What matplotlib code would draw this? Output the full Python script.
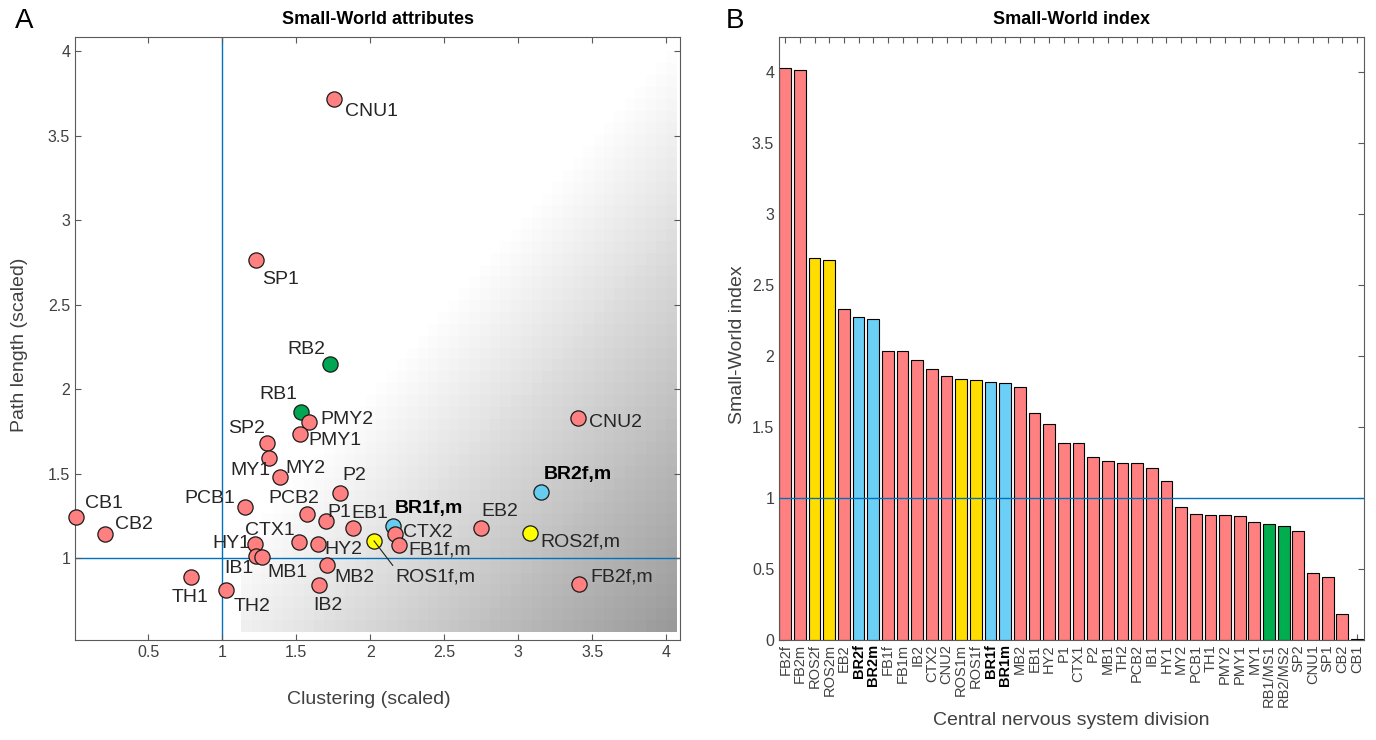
import numpy as np
import matplotlib.pyplot as plt
from matplotlib.ticker import FormatStrFormatter

plt.rcParams['font.family'] = ['Liberation Sans', 'DejaVu Sans']

# ---- Panel A: scaled clustering vs scaled path length ----
sw_names = ['CNU1', 'SP1', 'RB2', 'RB1', 'PMY2', 'PMY1', 'SP2', 'MY1', 'MY2', 'P2',
            'PCB1', 'PCB2', 'P1', 'EB1', 'CB1', 'CB2', 'CTX1', 'HY1', 'IB1', 'MB1',
            'HY2', 'MB2', 'IB2', 'TH1', 'TH2', 'ROS1f,m', 'BR1f,m', 'CTX2', 'FB1f,m',
            'EB2', 'BR2f,m', 'ROS2f,m', 'CNU2', 'FB2f,m']
clustering = [1.752, 1.228, 1.728, 1.532, 1.586, 1.525, 1.302, 1.316, 1.390, 1.795,
              1.155, 1.574, 1.699, 1.881, 0.012, 0.207, 1.516, 1.221, 1.230, 1.268,
              1.645, 1.705, 1.655, 0.789, 1.023, 2.025, 2.155, 2.167, 2.196,
              2.746, 3.151, 3.079, 3.401, 3.412]
path_length = [3.718, 2.763, 2.148, 1.867, 1.805, 1.737, 1.680, 1.592, 1.483, 1.388,
               1.304, 1.260, 1.222, 1.178, 1.246, 1.146, 1.095, 1.085, 1.015, 1.009,
               1.083, 0.960, 0.842, 0.889, 0.814, 1.104, 1.193, 1.144, 1.080,
               1.179, 1.391, 1.148, 1.830, 0.848]
sw_group = ['o', 'o', 'rb', 'rb', 'o', 'o', 'o', 'o', 'o', 'o',
            'o', 'o', 'o', 'o', 'o', 'o', 'o', 'o', 'o', 'o',
            'o', 'o', 'o', 'o', 'o', 'ros', 'br', 'o', 'o',
            'o', 'br', 'ros', 'o', 'o']

# label offsets in pixels (dx right, dy down) and alignment
label_pos = {
    'CB1': (9, -13, 'left'), 'CB2': (10, -9, 'left'), 'PCB1': (-10, -8, 'right'),
    'TH1': (-1, 20, 'center'), 'TH2': (8, 17, 'left'), 'HY1': (-5, -1, 'right'),
    'IB1': (-3, 13, 'right'), 'MB1': (5, 16, 'left'), 'CTX1': (-4, -12, 'right'),
    'PCB2': (-13, -16, 'center'), 'P1': (2, -8, 'left'), 'EB1': (-1, -15, 'left'),
    'HY2': (7, 5, 'left'), 'MB2': (8, 12, 'left'), 'IB2': (9, 20, 'center'),
    'P2': (2, -17, 'left'), 'MY2': (5, -8, 'left'), 'MY1': (1, 12, 'right'),
    'SP2': (-2, -15, 'right'), 'PMY1': (8, 7, 'left'), 'PMY2': (11, -3, 'left'),
    'RB1': (-4, -17, 'right'), 'ROS1f,m': (21, 36, 'left'), 'BR1f,m': (2, -17, 'left'),
    'CTX2': (8, -2, 'left'), 'FB1f,m': (9, 5, 'left'), 'EB2': (1, -17, 'left'),
    'BR2f,m': (3, -18, 'left'), 'ROS2f,m': (10, 9, 'left'), 'CNU2': (11, 4, 'left'),
    'FB2f,m': (11, -7, 'left'), 'CNU1': (11, 12, 'left'), 'SP1': (6, 19, 'left'),
    'RB2': (-5, -15, 'right'),
}

# ---- Panel B: small-world index per division ----
bar_names = ['FB2f', 'FB2m', 'ROS2f', 'ROS2m', 'EB2', 'BR2f', 'BR2m', 'FB1f', 'FB1m', 'IB2',
             'CTX2', 'CNU2', 'ROS1m', 'ROS1f', 'BR1f', 'BR1m', 'MB2', 'EB1', 'HY2', 'P1',
             'CTX1', 'P2', 'MB1', 'TH2', 'PCB2', 'IB1', 'HY1', 'MY2', 'PCB1', 'TH1',
             'PMY2', 'PMY1', 'MY1', 'RB1/MS1', 'RB2/MS2', 'SP2', 'CNU1', 'SP1', 'CB2', 'CB1']
sw_index = [4.03, 4.02, 2.69, 2.68, 2.33, 2.28, 2.26, 2.04, 2.04, 1.97,
            1.91, 1.86, 1.84, 1.835, 1.82, 1.81, 1.78, 1.60, 1.52, 1.39,
            1.39, 1.29, 1.26, 1.25, 1.25, 1.21, 1.12, 0.94, 0.885, 0.88,
            0.88, 0.875, 0.83, 0.82, 0.806, 0.77, 0.475, 0.444, 0.18, 0.01]
bar_group = ['o', 'o', 'ros', 'ros', 'o', 'br', 'br', 'o', 'o', 'o',
             'o', 'o', 'ros', 'ros', 'br', 'br', 'o', 'o', 'o', 'o',
             'o', 'o', 'o', 'o', 'o', 'o', 'o', 'o', 'o', 'o',
             'o', 'o', 'o', 'rb', 'rb', 'o', 'o', 'o', 'o', 'o']

pt_colors = {'o': '#FF8080', 'rb': '#00A651', 'br': '#66CCF0', 'ros': '#FFFF00'}
bar_colors = {'o': '#FF8080', 'rb': '#00AD4F', 'br': '#6CCFF6', 'ros': '#FFDD00'}
LINE_BLUE = '#0072BD'
AX_GRAY = '#5a5a5a'
TXT_GRAY = '#404040'


def style_axes(ax):
    for s in ax.spines.values():
        s.set_color(AX_GRAY)
        s.set_linewidth(0.8)
    ax.tick_params(direction='in', length=4, width=0.8, top=True, right=True,
                   color=AX_GRAY, labelcolor=TXT_GRAY, labelsize=11.5)


fig = plt.figure(figsize=(13.76, 7.40), dpi=100)

# ---------------- Panel A ----------------
axA = fig.add_axes([75 / 1376, 100 / 740, 605 / 1376, 603 / 740])
style_axes(axA)

# grey background shading (darker where clustering exceeds path length)
gx = np.linspace(1.13, 4.07, 43)
gy = np.linspace(0.565, 4.07, 51)
GX, GY = np.meshgrid((gx[:-1] + gx[1:]) / 2, (gy[:-1] + gy[1:]) / 2)
shade = 1 - 0.115 * np.clip(GX - GY, 0, None)
axA.pcolormesh(gx, gy, shade, cmap='gray', vmin=0, vmax=1, shading='flat', zorder=0)

axA.axvline(1, color=LINE_BLUE, lw=1, zorder=1)
axA.axhline(1, color=LINE_BLUE, lw=1, zorder=1)

for name, cx, cy, g in zip(sw_names, clustering, path_length, sw_group):
    axA.scatter(cx, cy, s=120, c=pt_colors[g], edgecolors='#1a1a1a', linewidths=0.9,
                zorder=4, clip_on=False)
    dx, dy, ha = label_pos[name]
    bold = name.startswith('BR')
    kw = {}
    if name == 'ROS1f,m':
        kw['arrowprops'] = dict(arrowstyle='-', color='#222222', lw=0.8,
                                shrinkA=0, shrinkB=0, relpos=(0, 1))
    axA.annotate(name, (cx, cy), xytext=(dx, -dy), textcoords='offset pixels',
                 ha=ha, va='center', fontsize=14, color='black' if bold else '#262626',
                 fontweight='bold' if bold else 'normal', zorder=5, **kw)

axA.set_xlim(0.005, 4.093)
axA.set_ylim(0.517, 4.085)
axA.set_xticks([0.5, 1, 1.5, 2, 2.5, 3, 3.5, 4])
axA.set_yticks([1, 1.5, 2, 2.5, 3, 3.5, 4])
axA.xaxis.set_major_formatter(FormatStrFormatter('%g'))
axA.yaxis.set_major_formatter(FormatStrFormatter('%g'))
axA.set_title('Small-World attributes', fontsize=13, fontweight='bold', pad=9)
axA.set_xlabel('Clustering (scaled)', fontsize=14, color=TXT_GRAY)
axA.set_ylabel('Path length (scaled)', fontsize=14, color=TXT_GRAY)
axA.xaxis.set_label_coords(0.485, -0.085)
axA.yaxis.set_label_coords(-0.078, 0.49)

# ---------------- Panel B ----------------
axB = fig.add_axes([779 / 1376, 100 / 740, 585 / 1376, 603 / 740])
style_axes(axB)
xpos = np.arange(1, len(bar_names) + 1)
axB.bar(xpos, sw_index, width=0.8, color=[bar_colors[g] for g in bar_group],
        edgecolor='black', linewidth=0.8, zorder=2)
axB.axhline(1, color=LINE_BLUE, lw=1, zorder=3)
axB.set_xlim(0.57, 40.48)
axB.set_ylim(0, 4.25)
axB.set_yticks(np.arange(0, 4.01, 0.5))
axB.yaxis.set_major_formatter(FormatStrFormatter('%g'))
axB.set_xticks(xpos)
axB.set_xticklabels(bar_names, rotation=90, fontsize=10.5)
for lbl in axB.get_xticklabels():
    if lbl.get_text().startswith('BR'):
        lbl.set_fontweight('bold')
        lbl.set_color('black')
axB.tick_params(axis='x', pad=3)
axB.set_title('Small-World index', fontsize=13, fontweight='bold', pad=9)
axB.set_xlabel('Central nervous system division', fontsize=14, color=TXT_GRAY)
axB.set_ylabel('Small-World index', fontsize=14, color=TXT_GRAY)
axB.xaxis.set_label_coords(0.5, -0.12)
axB.yaxis.set_label_coords(-0.057, 0.49)

# panel letters
fig.text(24 / 1376, 1 - 21 / 740, 'A', fontsize=20, ha='center', va='center')
fig.text(735 / 1376, 1 - 21 / 740, 'B', fontsize=20, ha='center', va='center')

fig.savefig('out.png', dpi=100)
